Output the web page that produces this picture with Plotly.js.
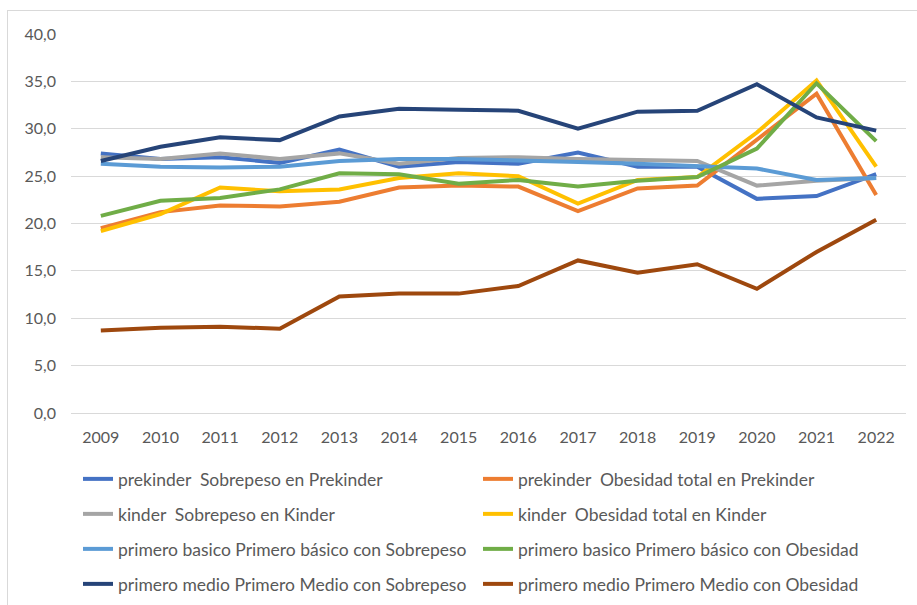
<!DOCTYPE html>
<html>
<head>
<meta charset="utf-8">
<script src="https://cdn.plot.ly/plotly-3.0.1.min.js"></script>
<style>
  html, body { margin: 0; padding: 0; background: #ffffff; }
  #wrap { position: relative; width: 917px; height: 605px; overflow: hidden; }
  #chart { position: absolute; left: 0; top: 0; width: 917px; height: 605px; }
  #frame { position: absolute; left: 7px; top: 10px; width: 940px; height: 640px;
           border-left: 1px solid #d9d9d9; border-top: 1px solid #d9d9d9; pointer-events: none; }
</style>
</head>
<body>
<div id="wrap">
  <div id="chart"></div>
  <div id="frame"></div>
</div>
<script>
// ---- data ----
const years = ['2009','2010','2011','2012','2013','2014','2015','2016','2017','2018','2019','2020','2021','2022'];

const prekinderSobrepeso     = [27.4, 26.8, 27.0, 26.4, 27.8, 26.0, 26.5, 26.3, 27.5, 26.0, 26.0, 22.6, 22.9, 25.2];
const prekinderObesidad      = [19.5, 21.2, 21.9, 21.8, 22.3, 23.8, 24.0, 23.9, 21.3, 23.7, 24.0, 28.8, 33.7, 23.0];
const kinderSobrepeso        = [27.0, 26.8, 27.4, 26.8, 27.4, 26.3, 26.9, 27.0, 26.8, 26.7, 26.6, 24.0, 24.5, 24.8];
const kinderObesidad         = [19.2, 21.0, 23.8, 23.4, 23.6, 24.8, 25.3, 25.0, 22.1, 24.6, 24.9, 29.6, 35.1, 26.0];
const primeroBasicoSobrepeso = [26.3, 26.0, 25.9, 26.0, 26.6, 26.8, 26.8, 26.7, 26.5, 26.3, 26.1, 25.8, 24.6, 24.8];
const primeroBasicoObesidad  = [20.8, 22.4, 22.7, 23.6, 25.3, 25.2, 24.2, 24.6, 23.9, 24.5, 24.9, 27.9, 34.8, 28.7];
const primeroMedioSobrepeso  = [26.6, 28.1, 29.1, 28.8, 31.3, 32.1, 32.0, 31.9, 30.0, 31.8, 31.9, 34.7, 31.2, 29.8];
const primeroMedioObesidad   = [8.7, 9.0, 9.1, 8.9, 12.3, 12.6, 12.6, 13.4, 16.1, 14.8, 15.7, 13.1, 17.0, 20.4];

const seriesNames = [
  'prekinder  Sobrepeso en Prekinder',
  'prekinder  Obesidad total en Prekinder',
  'kinder  Sobrepeso en Kinder',
  'kinder  Obesidad total en Kinder',
  'primero basico Primero básico con Sobrepeso',
  'primero basico Primero básico con Obesidad',
  'primero medio Primero Medio con Sobrepeso',
  'primero medio Primero Medio con Obesidad'
];
const seriesValues = [
  prekinderSobrepeso, prekinderObesidad, kinderSobrepeso, kinderObesidad,
  primeroBasicoSobrepeso, primeroBasicoObesidad, primeroMedioSobrepeso, primeroMedioObesidad
];
const yTickVals = [0, 5, 10, 15, 20, 25, 30, 35, 40];

// ---- styling ----
const colors = ['#4472C4', '#ED7D31', '#A5A5A5', '#FFC000', '#5B9BD5', '#70AD47', '#264478', '#9E480E'];
const FONT = 'Lato, "Open Sans", sans-serif';
const TXT = '#595959';

const W = 917, H = 605;
const M = { l: 71, r: 11, t: 34, b: 192, autoexpand: false };
const plotW = W - M.l - M.r, plotH = H - M.t - M.b;

// legend grid (pixel positions of each legend box left edge / row centre)
const legColX = [78, 478];
const legRowY = [479, 514, 549, 584];

const traces = seriesValues.map((vals, i) => ({
  type: 'scatter',
  mode: 'lines',
  x: years,
  y: vals,
  name: seriesNames[i],
  line: { color: colors[i], width: 4 },
  legend: i === 0 ? 'legend' : 'legend' + (i + 1),
  hoverinfo: 'x+y+name'
}));

const layout = {
  width: W, height: H,
  margin: M,
  paper_bgcolor: 'rgba(0,0,0,0)',
  plot_bgcolor: 'rgba(0,0,0,0)',
  separators: ',.',
  font: { family: FONT, color: TXT, size: 16 },
  xaxis: {
    type: 'category',
    range: [-0.5, years.length - 0.5],
    showgrid: false, zeroline: false, showline: false,
    ticks: '',
    ticklabelstandoff: 13,
    tickfont: { family: FONT, size: 16, color: TXT },
    fixedrange: true
  },
  yaxis: {
    range: [0, 40],
    tickvals: yTickVals,
    tickformat: '.1f',
    showgrid: true, gridcolor: '#d9d9d9', gridwidth: 1,
    zeroline: true, zerolinecolor: '#d9d9d9', zerolinewidth: 1,
    showline: false, ticks: '',
    ticklabelstandoff: 14,
    tickfont: { family: FONT, size: 16, color: TXT },
    fixedrange: true
  },
  showlegend: true
};

seriesNames.forEach((n, i) => {
  const key = i === 0 ? 'legend' : 'legend' + (i + 1);
  const col = i % 2, row = Math.floor(i / 2);
  layout[key] = {
    xref: 'paper', yref: 'paper',
    x: (legColX[col] - M.l) / plotW,
    y: (M.t + plotH - legRowY[row]) / plotH,
    xanchor: 'left', yanchor: 'middle',
    orientation: 'v',
    bgcolor: 'rgba(0,0,0,0)',
    borderwidth: 0,
    font: { family: FONT, size: 17.5, color: TXT }
  };
});

Plotly.newPlot('chart', traces, layout, { staticPlot: true, displayModeBar: false });
</script>
</body>
</html>
